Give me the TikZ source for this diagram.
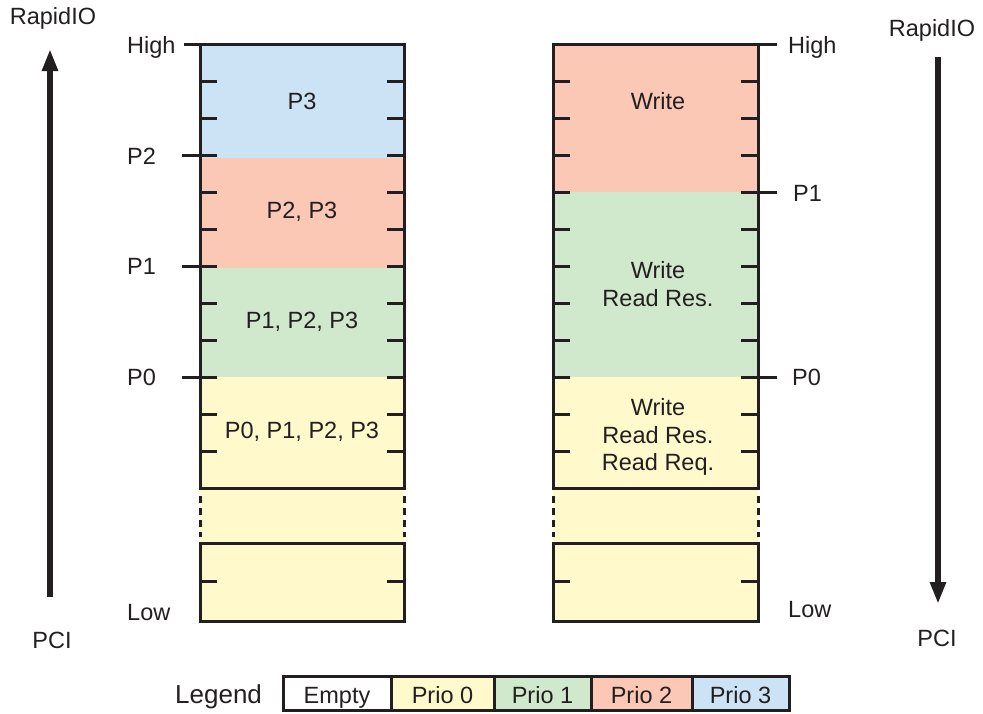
\documentclass[tikz,border=0pt]{standalone}
\usepackage{fontspec}
\setmainfont{Liberation Sans}
\usetikzlibrary{arrows.meta}
\definecolor{ink}{HTML}{231F20}
\definecolor{pzero}{HTML}{FFF9CC}
\definecolor{pone}{HTML}{D0E8CC}
\definecolor{ptwo}{HTML}{FAC8B4}
\definecolor{pthree}{HTML}{CCE2F5}
\begin{document}
\begin{tikzpicture}[x=1pt,y=-1pt,
  font=\fontsize{23.5}{27.5}\selectfont, text=ink,
  frame/.style={draw=ink, line width=3pt},
  tickmark/.style={draw=ink, line width=3pt},
  gapline/.style={draw=ink, line width=3pt, dash pattern=on 7pt off 5pt},
  lbl/.style={inner sep=0pt, anchor=west, text height=17pt, text depth=0pt},
  ctext/.style={inner sep=0pt, text height=17pt, text depth=0pt},
  mtext/.style={inner sep=0pt, align=center},
  bigarrow/.style={draw=ink, line width=5.5pt, -{Triangle[length=22pt,width=15pt]}},
  legbox/.style={draw=ink, line width=3pt, minimum height=34pt, inner sep=0pt,
    outer sep=0pt, anchor=west, text height=20pt, text depth=0pt}]
\useasboundingbox (0,0) rectangle (983,713);
% ---------- left column ----------
\fill[pthree] (200,44) rectangle (404,158);
\fill[ptwo] (200,158) rectangle (404,268);
\fill[pone] (200,268) rectangle (404,377);
\fill[pzero] (200,377) rectangle (404,621);
\draw[frame] (200,44) rectangle (404,488);
\draw[frame] (200,543) rectangle (404,621);
\draw[gapline] (200,496) -- (200,537);
\draw[gapline] (404,496) -- (404,537);
\foreach \y in {81,118,155,192,229,266,303,340,377,414,451,581}{
  \draw[tickmark] (200,\y) -- +(17,0);
  \draw[tickmark] (404,\y) -- +(-17,0);
}
\foreach \y in {155,266,377}{ \draw[tickmark] (182,\y) -- (215,\y); }
\draw[tickmark] (184,44) -- (200,44);
\node[lbl] (lhigh) at (127,45) {High};
\node[lbl] (lp2) at (127,156) {P2};
\node[lbl] (lp1) at (127,266) {P1};
\node[lbl] (lp0) at (127,377) {P0};
\node[lbl] (llow) at (127,612) {Low};
\node[ctext] (t3) at (302,101) {P3};
\node[ctext] (t2) at (302,210) {P2, P3};
\node[ctext] (t1) at (302,320) {P1, P2, P3};
\node[ctext] (t0) at (302,430) {P0, P1, P2, P3};
% ---------- right column ----------
\fill[ptwo] (553,44) rectangle (758,192);
\fill[pone] (553,192) rectangle (758,377);
\fill[pzero] (553,377) rectangle (758,621);
\draw[frame] (553,44) rectangle (758,488);
\draw[frame] (553,543) rectangle (758,621);
\draw[gapline] (553,496) -- (553,537);
\draw[gapline] (758,496) -- (758,537);
\foreach \y in {81,118,155,192,229,266,303,340,377,414,451,581}{
  \draw[tickmark] (553,\y) -- +(17,0);
  \draw[tickmark] (758,\y) -- +(-17,0);
}
\foreach \y in {192,377}{ \draw[tickmark] (742,\y) -- (777,\y); }
\draw[tickmark] (758,44) -- (777,44);
\node[lbl] (rhigh) at (788,45) {High};
\node[lbl] (rp1) at (793,193) {P1};
\node[lbl] (rp0) at (792,377) {P0};
\node[lbl] (rlow) at (788,609) {Low};
\node[ctext] (w2) at (658,101) {Write};
\node[mtext] (w1) at (658,284) {Write\\Read Res.};
\node[mtext] (w0) at (658,437) {Write\\Read Res.\\Read Req.};
% ---------- arrows ----------
\node[inner sep=0pt] (lrio) at (53,18) {RapidIO};
\node[inner sep=0pt] (lpci) at (52,640) {PCI};
\coordinate (la) at (50,597);
\coordinate (lb) at (50,49);
\draw[bigarrow] (la) -- (lb);
\node[inner sep=0pt] (rrio) at (932,30) {RapidIO};
\node[inner sep=0pt] (rpci) at (937,638) {PCI};
\coordinate (ra) at (938,57);
\coordinate (rb) at (938,604);
\draw[bigarrow] (ra) -- (rb);
% ---------- legend ----------
\node[inner sep=0pt, anchor=base west, font=\fontsize{26}{30}\selectfont] (legend) at (175,703) {Legend};
\node[legbox, minimum width=108pt] (le) at (283,693) {Empty};
\node[legbox, fill=pzero, minimum width=103pt] (l0) at (le.east) {Prio 0};
\node[legbox, fill=pone, minimum width=97pt] (l1) at (l0.east) {Prio 1};
\node[legbox, fill=ptwo, minimum width=101pt] (l2) at (l1.east) {Prio 2};
\node[legbox, fill=pthree, minimum width=97pt] (l3) at (l2.east) {Prio 3};
\end{tikzpicture}
\end{document}
